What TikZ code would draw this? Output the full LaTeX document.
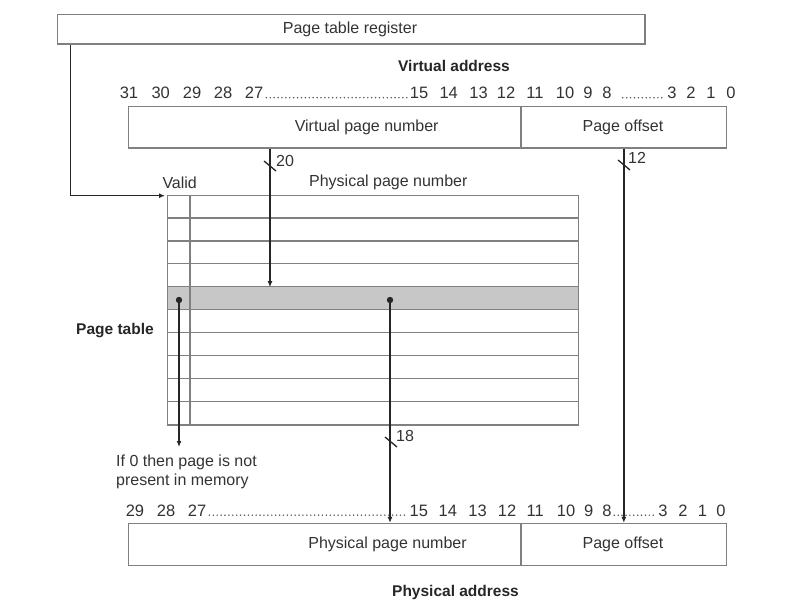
\documentclass[tikz,border=0pt]{standalone}
\usepackage{fontspec}
\setmainfont{Liberation Sans}
\usetikzlibrary{arrows.meta}
\begin{document}
\begin{tikzpicture}[x=1pt,y=-1pt,
  txt/.style={font=\fontsize{16}{18}\selectfont, text=black!80, inner sep=0pt},
  dig/.style={font=\fontsize{16.5}{18}\selectfont, text=black!80, inner sep=0pt},
  btxt/.style={font=\fontsize{15.5}{18}\selectfont\bfseries, text=black!85, inner sep=0pt},
  boxe/.style={draw=black!50, line width=1.3pt, inner sep=0pt},
  gridline/.style={draw=black!50, line width=1.3pt},
  arr/.style={draw=black!85, line width=1.5pt, -{Latex[length=6pt,width=5pt]}},
  dots/.style={draw=black!65, line width=1.7pt, line cap=round, dash pattern=on 0pt off 3.9pt},
  tickmark/.style={draw=black!85, line width=1.3pt},
]
\useasboundingbox (0,0) rectangle (800,611);

% page table register
\node[boxe, minimum width=587.7pt, minimum height=29.7pt] (ptr) at (351.2,29.2) {};
\node[txt] (ptrt) at (350,29) {Page table register};

% virtual address
\node[btxt] (vat) at (454,66) {Virtual address};
\foreach \n/\x in {31/129,30/160.7,29/192,28/223,27/254,15/419,14/448.7,13/478.5,12/506,11/535,10/565,9/588,8/607,3/672,2/691,1/711,0/731}
  \node[dig] (vb\n) at (\x,93) {\n};
\draw[dots] ([shift={(3,-1.3)}]vb27.south east) -- ([shift={(-2.5,-1.3)}]vb15.south west);
\draw[dots] ([shift={(11,-1.3)}]vb8.south east) -- ([shift={(-2.5,-1.3)}]vb3.south west);
\node[boxe, minimum width=392.7pt, minimum height=41.3pt] (vpn) at (324.65,127.35) {};
\node[boxe, minimum width=205.7pt, minimum height=41.3pt] (voff) at (623.85,127.35) {};
\node[txt] (vpnt) at (366.7,127.7) {Virtual page number};
\node[txt] (vofft) at (623,127.5) {Page offset};

% page table
\node[txt] (validt) at (179.7,182.7) {Valid};
\node[txt] (ppnh) at (388.3,182.7) {Physical page number};
\node[btxt] (ptabt) at (115,330.7) {Page table};
\node[draw=none, fill=black!22, minimum width=411pt, minimum height=22.93pt, inner sep=0pt] (selrow) at (372.8,298.85) {};
\node[boxe, minimum width=411pt, minimum height=229.3pt] (ptab) at (372.8,310.35) {};
\foreach \k in {1,...,9}
  \draw[gridline] ([yshift={-\k*22.93pt}]ptab.north west) -- ([yshift={-\k*22.93pt}]ptab.north east);
\draw[gridline] ([xshift=23.4pt]ptab.north west) -- ([xshift=23.4pt]ptab.south west);

\coordinate (tabin) at (165,195.7);
\coordinate (vdot) at (179,300);
\coordinate (pdot) at (390,300);
\coordinate (vend) at (179,447);

% physical address
\foreach \n/\x in {29/135,28/166,27/197,15/418.8,14/447.8,13/477.5,12/507,11/535.3,10/566,9/588.7,8/607,3/663,2/683,1/702.5,0/721}
  \node[dig] (pb\n) at (\x,510.5) {\n};
\draw[dots] ([shift={(3,-1.3)}]pb27.south east) -- ([shift={(-2.5,-1.3)}]pb15.south west);
\draw[dots] ([shift={(2.5,-1.3)}]pb8.south east) -- ([shift={(-2.5,-1.3)}]pb3.south west);
\node[boxe, minimum width=392.7pt, minimum height=42.3pt] (ppn) at (324.65,544.65) {};
\node[boxe, minimum width=205.7pt, minimum height=42.3pt] (poff) at (623.85,544.65) {};
\node[txt] (ppnt) at (387.5,544) {Physical page number};
\node[txt] (pofft) at (623,544) {Page offset};
\node[btxt] (pat) at (455.5,592.7) {Physical address};

\node[txt, anchor=west, align=left, font=\fontsize{16}{19}\selectfont] (ifzero) at (116,472.2) {If 0 then page is not\\present in memory};

% connectors
\draw[arr] ([xshift=13.7pt]ptr.south west) |- (tabin);
\draw[arr] (270,0 |- vpn.south) -- (270,0 |- selrow.north);
\draw[arr] (voff.south) -- (poff.north);
\fill[black!85] (vdot) circle (3.2pt);
\fill[black!85] (pdot) circle (3.2pt);
\draw[arr] (vdot) -- (vend);
\draw[arr] (pdot) -- (pdot |- ppn.north);

% bus width marks
\draw[tickmark] (264,161) -- (276,171);
\node[txt] (w20) at (285,161) {20};
\draw[tickmark] (618,160) -- (630,170);
\node[txt] (w12) at (637,158) {12};
\draw[tickmark] (385,437) -- (397,447);
\node[txt] (w18) at (405,435.7) {18};
\end{tikzpicture}
\end{document}
